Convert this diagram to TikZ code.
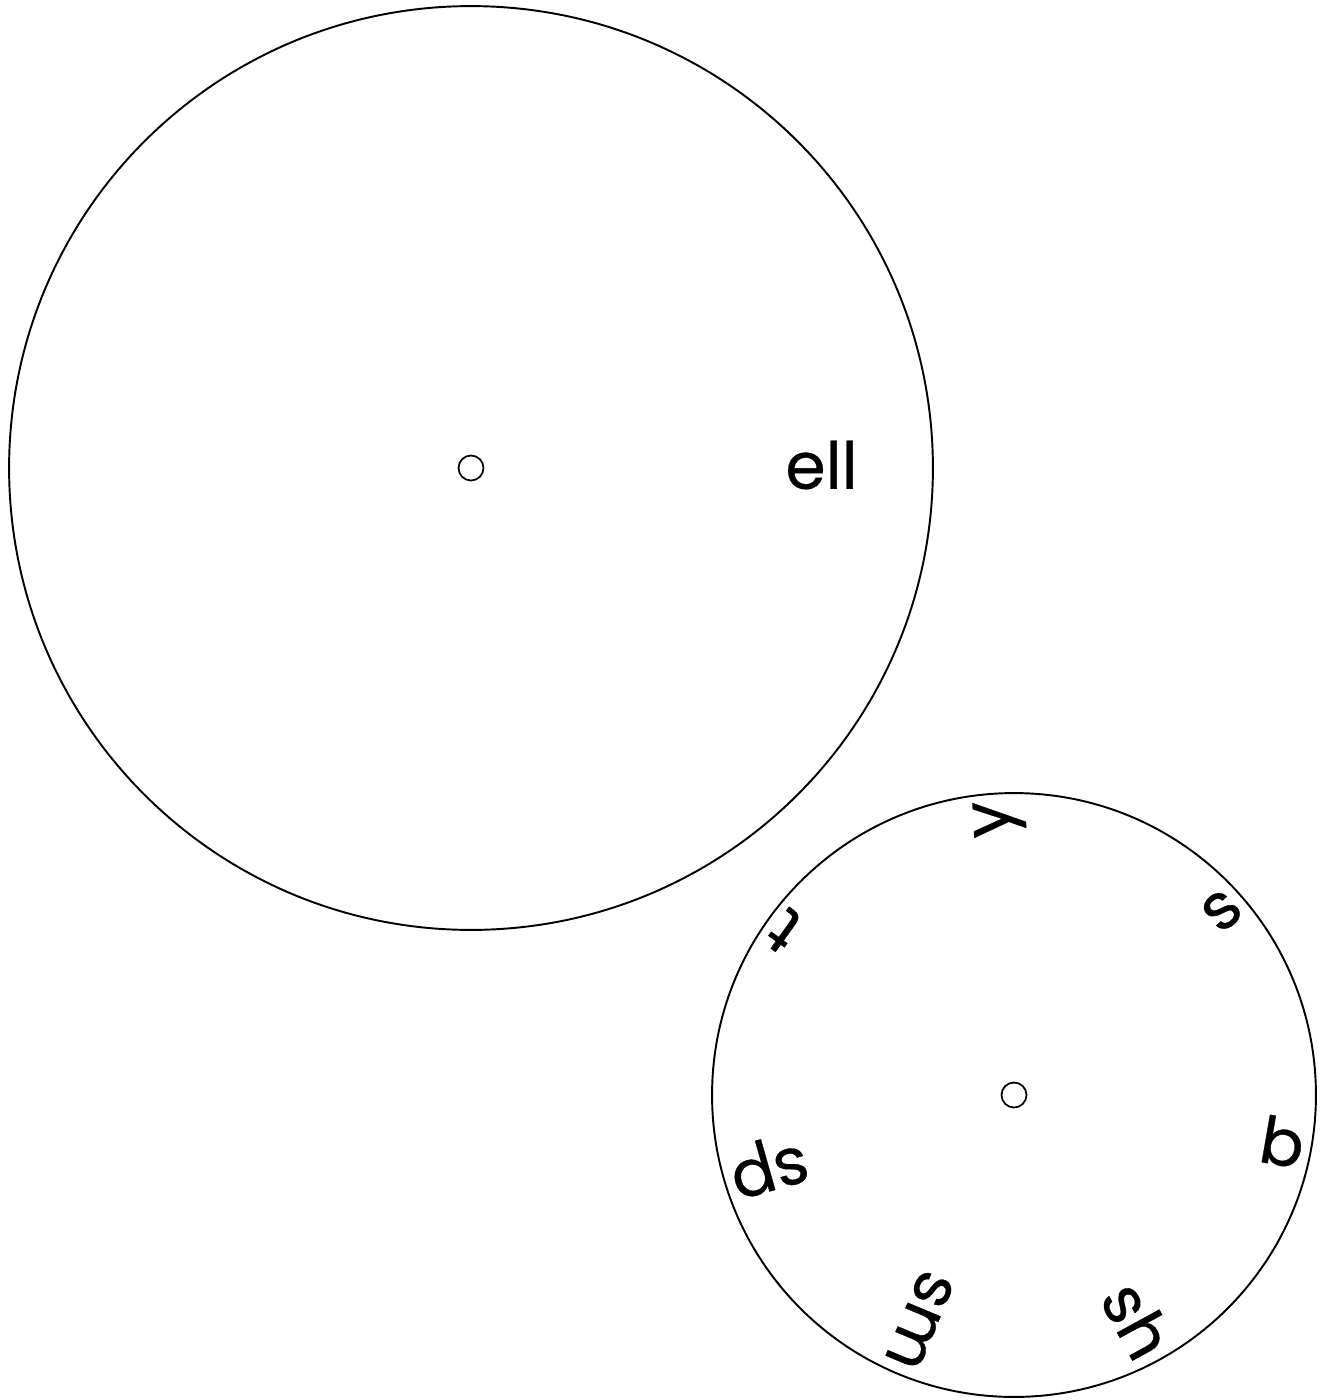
\documentclass[tikz,border=0pt]{standalone}
\usepackage{fontspec}
\setmainfont{Poppins}
\newfontfamily\wheelfont{Poppins}[FakeBold=0.5]
\begin{document}
\begin{tikzpicture}[
      x=0.02cm, y=-0.02cm,
      wheel/.style={draw, circle, line width=1.1pt, inner sep=0pt},
      pin/.style={draw, circle, line width=1pt, inner sep=0pt, minimum size=0.5cm},
      word/.style={inner sep=0pt, font=\wheelfont\fontsize{37}{40}\selectfont}
    ]
    \useasboundingbox (0,0) rectangle (1325,1400);
    % outer wheel with the rime
    \node[wheel, minimum size=18.48cm] (bigwheel) at (471,468) {};
    \node[pin] (bigpin) at (bigwheel.center) {};
    \node[word, anchor=east] (rime) at (858,465) {ell};

    % inner wheel with the onsets
    \node[wheel, minimum size=12.08cm] (smallwheel) at (1014,1095) {};
    \node[pin] (smallpin) at (smallwheel.center) {};
    \foreach \onset [count=\i from 0] in {y,s,b,sh,sm,sp,t}
      \node[word, anchor=east, rotate={93-\i*360/7}] (onset\i)
        at ([shift={({93-\i*360/7}:5.9cm)}]smallwheel.center) {\onset};
  \end{tikzpicture}
\end{document}
